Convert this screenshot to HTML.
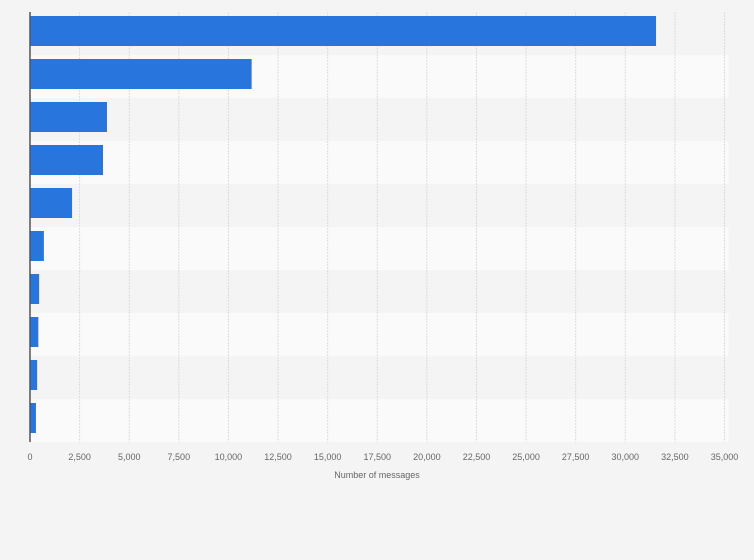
<!DOCTYPE html>
<html><head><meta charset="utf-8"><style>
body{margin:0;background:#f4f4f4;font-family:"Liberation Sans",sans-serif;}
svg{display:block}
</style></head><body>
<svg id="chart" width="754" height="560" xmlns="http://www.w3.org/2000/svg">
<rect width="754" height="560" fill="#f4f4f4"/>
<g id="bands"></g><g id="grid"></g><g id="bars"></g><g id="ticks"></g>
<line x1="30" y1="12" x2="30" y2="442" stroke="#555" stroke-width="1.5"/>
<text x="377" y="478" font-size="9" fill="#666" text-anchor="middle">Number of messages</text>
</svg>
<script>
const categories=["c1","c2","c3","c4","c5","c6","c7","c8","c9","c10"];
const values=[31550,11170,3880,3680,2120,700,460,420,360,300];
const tickValues=[0,2500,5000,7500,10000,12500,15000,17500,20000,22500,25000,27500,30000,32500,35000];
const tickLabels=["0","2,500","5,000","7,500","10,000","12,500","15,000","17,500","20,000","22,500","25,000","27,500","30,000","32,500","35,000"];
const NS="http://www.w3.org/2000/svg";
const x0=30,x1=724.5,maxV=35000,plotTop=12,plotBottom=442;
const xs=v=>x0+(v/maxV)*(x1-x0);
const rowH=(plotBottom-plotTop)/categories.length;
const ys=i=>plotTop+i*rowH;
function mk(tag,attrs,parent){const e=document.createElementNS(NS,tag);for(const k in attrs)e.setAttribute(k,attrs[k]);document.getElementById(parent).appendChild(e);return e;}
categories.forEach((c,i)=>{
 const b=mk('rect',{x:x0,y:ys(i),width:x1+4-x0,height:rowH,fill:i%2?'#fafafa':'#f4f4f4'},'bands');
 
 
});
tickValues.forEach((v,i)=>{
 if(i>0){const l=mk('line',{x1:xs(v),x2:xs(v),y1:plotTop,y2:plotBottom,stroke:'#dcdcdc','stroke-dasharray':'2,1'},'grid');
 
 }
 const t=mk('text',{x:xs(v),y:460,'font-size':9,fill:'#666','text-anchor':'middle'},'ticks');
 t.textContent=tickLabels[i];
 
 
});
values.forEach((v,i)=>{
 const r=mk('rect',{x:x0,y:ys(i)+4,width:xs(v)-x0,height:30,fill:'#2876dd'},'bars');
 
 
});
</script>
</body></html>
